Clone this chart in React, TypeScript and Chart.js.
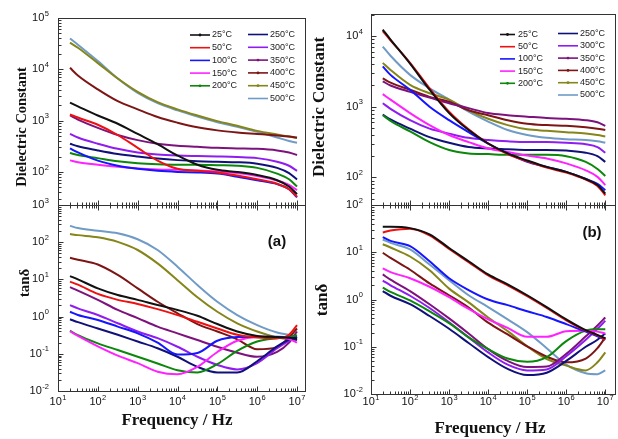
import React, { useEffect, useRef } from 'react';
import { Chart, registerables } from 'chart.js';

Chart.register(...registerables);

// ---------- shared data ----------
const frequencyHz = [20, 31.6, 100, 316, 1000, 3160, 10000, 31600, 100000, 316000, 1000000, 3160000, 6300000, 10000000];
const temperatureLabels = ['25°C', '50°C', '100°C', '150°C', '200°C', '250°C', '300°C', '350°C', '400°C', '450°C', '500°C'];
const frequencyTickExponents = [1, 2, 3, 4, 5, 6, 7];

// ---------- panel (a): dielectric constant ----------
const epsA_25 = [2240, 1900, 1260, 870, 550, 347, 209, 138, 110, 100, 87, 69, 52, 37];
const epsA_50 = [1320, 1150, 832, 525, 295, 166, 115, 105, 98, 85, 72, 59, 46, 33];
const epsA_100 = [288, 240, 166, 132, 115, 105, 100, 98, 93, 81, 69, 58, 46, 32];
const epsA_150 = [168, 155, 138, 126, 117, 112, 110, 107, 102, 95, 83, 68, 56, 44];
const epsA_200 = [234, 214, 186, 162, 148, 141, 138, 138, 135, 132, 120, 93, 72, 52];
const epsA_250 = [355, 316, 263, 224, 200, 182, 170, 162, 158, 155, 145, 120, 95, 71];
const epsA_300 = [550, 468, 355, 282, 240, 219, 209, 204, 200, 195, 186, 158, 132, 105];
const epsA_350 = [1260, 1050, 724, 525, 417, 355, 324, 309, 295, 288, 282, 263, 240, 214];
const epsA_400 = [10700, 7590, 4070, 2400, 1660, 1175, 912, 741, 646, 589, 550, 513, 490, 470];
const epsA_450 = [33100, 26300, 13200, 6610, 3630, 2290, 1660, 1260, 977, 794, 631, 537, 490, 460];
const epsA_500 = [39800, 30200, 14500, 6610, 3470, 2190, 1585, 1200, 933, 759, 603, 470, 400, 372];
const epsATickExponents = [2, 3, 4, 5];

// ---------- panel (a): tan delta ----------
const tanA_25 = [12.3, 10.0, 5.75, 3.8, 2.82, 2.04, 1.51, 1.05, 0.631, 0.398, 0.302, 0.282, 0.269, 0.251];
const tanA_50 = [8.71, 7.24, 4.07, 2.82, 2.19, 1.585, 1.096, 0.724, 0.479, 0.324, 0.275, 0.263, 0.324, 0.589];
const tanA_100 = [1.35, 1.1, 0.813, 0.537, 0.355, 0.2, 0.0955, 0.105, 0.224, 0.282, 0.288, 0.288, 0.275, 0.234];
const tanA_150 = [0.398, 0.302, 0.158, 0.0891, 0.0562, 0.0331, 0.0282, 0.0447, 0.112, 0.224, 0.282, 0.282, 0.251, 0.2];
const tanA_200 = [0.417, 0.316, 0.191, 0.126, 0.0832, 0.055, 0.0363, 0.0316, 0.0525, 0.12, 0.214, 0.263, 0.282, 0.316];
const tanA_250 = [0.851, 0.708, 0.479, 0.324, 0.214, 0.141, 0.0832, 0.0447, 0.0316, 0.0316, 0.0631, 0.158, 0.24, 0.282];
const tanA_300 = [2.04, 1.66, 1.1, 0.661, 0.398, 0.263, 0.155, 0.0832, 0.0501, 0.038, 0.0562, 0.141, 0.224, 0.282];
const tanA_350 = [6.17, 5.01, 2.82, 1.51, 0.912, 0.537, 0.355, 0.234, 0.155, 0.107, 0.0832, 0.112, 0.2, 0.398];
const tanA_400 = [38.0, 33.9, 25.1, 13.2, 5.75, 2.51, 1.23, 0.631, 0.398, 0.245, 0.132, 0.151, 0.275, 0.479];
const tanA_450 = [166, 155, 135, 102, 61.7, 26.9, 9.55, 3.31, 1.35, 0.661, 0.398, 0.275, 0.245, 0.234];
const tanA_500 = [275, 240, 204, 174, 120, 61.7, 21.9, 7.08, 2.51, 1.1, 0.589, 0.372, 0.324, 0.288];
const tanATickExponents = [-2, -1, 0, 1, 2, 3];

// ---------- panel (b): dielectric constant ----------
const epsB_25 = [12300, 8910, 4070, 1740, 813, 468, 302, 219, 174, 141, 120, 95, 78, 59];
const epsB_50 = [11700, 8710, 4170, 1820, 851, 479, 302, 214, 170, 138, 117, 93, 76, 56];
const epsB_100 = [3720, 2820, 1740, 1000, 646, 437, 302, 219, 166, 141, 120, 95, 81, 66];
const epsB_150 = [1510, 1260, 813, 550, 398, 316, 257, 229, 204, 186, 158, 126, 102, 78];
const epsB_200 = [759, 631, 447, 316, 245, 219, 214, 209, 209, 209, 200, 166, 132, 105];
const epsB_250 = [776, 661, 490, 372, 309, 269, 257, 251, 245, 245, 240, 224, 200, 166];
const epsB_300 = [1120, 933, 646, 490, 417, 363, 339, 324, 316, 316, 309, 295, 269, 224];
const epsB_350 = [2290, 1995, 1622, 1349, 1122, 955, 813, 759, 724, 692, 676, 646, 603, 537];
const epsB_400 = [2510, 2190, 1740, 1380, 1175, 891, 759, 646, 575, 550, 537, 513, 490, 468];
const epsB_450 = [4170, 3310, 2040, 1549, 1259, 891, 676, 550, 479, 457, 437, 417, 398, 380];
const epsB_500 = [7080, 5250, 2820, 1820, 1259, 851, 617, 468, 398, 363, 347, 339, 324, 309];
const epsBTickExponents = [2, 3, 4];

// ---------- panel (b): tan delta ----------
const tanB_25 = [34.7, 34.7, 32.4, 24.0, 12.3, 6.46, 3.39, 2.09, 1.23, 0.692, 0.38, 0.224, 0.178, 0.151];
const tanB_50 = [26.3, 28.8, 31.6, 22.9, 11.7, 6.17, 3.24, 2.0, 1.175, 0.661, 0.363, 0.219, 0.174, 0.141];
const tanB_100 = [20.9, 17.4, 13.5, 6.46, 2.82, 1.585, 1.0, 0.759, 0.562, 0.427, 0.302, 0.209, 0.166, 0.141];
const tanB_150 = [4.57, 3.8, 2.82, 1.86, 1.12, 0.631, 0.38, 0.251, 0.162, 0.162, 0.214, 0.219, 0.209, 0.191];
const tanB_200 = [1.78, 1.445, 0.955, 0.562, 0.316, 0.158, 0.0891, 0.0562, 0.0479, 0.0603, 0.132, 0.219, 0.234, 0.234];
const tanB_250 = [1.51, 1.2, 0.794, 0.447, 0.24, 0.12, 0.0603, 0.0339, 0.0251, 0.0282, 0.0501, 0.1, 0.141, 0.191];
const tanB_300 = [2.51, 2.0, 1.2, 0.661, 0.331, 0.158, 0.0759, 0.0417, 0.0316, 0.0331, 0.0631, 0.141, 0.24, 0.355];
const tanB_350 = [3.39, 2.63, 1.51, 0.794, 0.398, 0.191, 0.0891, 0.0501, 0.0372, 0.038, 0.0708, 0.166, 0.282, 0.417];
const tanB_400 = [9.77, 7.59, 4.27, 2.19, 1.23, 0.676, 0.324, 0.182, 0.102, 0.0617, 0.0468, 0.0562, 0.0933, 0.158];
const tanB_450 = [14.8, 12.6, 8.13, 4.17, 1.7, 0.871, 0.417, 0.214, 0.102, 0.055, 0.0398, 0.0316, 0.0468, 0.0759];
const tanB_500 = [18.6, 15.8, 11.5, 5.5, 2.57, 1.23, 0.692, 0.38, 0.204, 0.0933, 0.0417, 0.0275, 0.0263, 0.0316];
const tanBTickExponents = [-2, -1, 0, 1, 2];

// ---------- styles ----------
const seriesColors = ['#111111', '#ee1111', '#1515ff', '#ff22ff', '#0b870b', '#10107a', '#8f1cf0', '#7d127d', '#7d1515', '#85851a', '#6f9bc6'];
const legendMarkers = [true, false, false, false, true, false, false, true, true, true, false];

const W = 618;
const H = 439;
const SANS = '"Liberation Sans", Arial, sans-serif';
const SERIF = '"Liberation Serif", "Times New Roman", serif';

type Area = { left: number; top: number; right: number; bottom: number };
type LegendCol = { x0: number; x1: number; tx: number; y0: number; dy: number; idx: number[] };
type PanelCfg = {
  series: number[][];
  area: Area;
  xMax: number;
  yMin: number;
  yMax: number;
  yTicks: number[];
  xLabelY?: number;
  xTicksTop: boolean;
  yTitle: string;
  yTitleFont: string;
  yTitlePos: [number, number];
  xTitle?: { text: string; x: number; y: number };
  tag?: { text: string; x: number; y: number };
  legend?: LegendCol[];
  yLabelGap: number;
};

function drawPow(ctx: CanvasRenderingContext2D, exp: number, x: number, y: number, align: 'right' | 'center') {
  const base = '10';
  const sup = String(exp);
  ctx.font = `11px ${SANS}`;
  const bw = ctx.measureText(base).width;
  ctx.font = `7.5px ${SANS}`;
  const sw = ctx.measureText(sup).width;
  const total = bw + sw + 0.5;
  const x0 = align === 'right' ? x - total : x - total / 2;
  ctx.textAlign = 'left';
  ctx.textBaseline = 'middle';
  ctx.fillStyle = '#111';
  ctx.font = `11px ${SANS}`;
  ctx.fillText(base, x0, y);
  ctx.font = `7.5px ${SANS}`;
  ctx.fillText(sup, x0 + bw + 0.5, y - 4.5);
}

function makeDecor(cfg: PanelCfg) {
  return {
    id: 'decor',
    afterDatasetsDraw(chart: any) {
      const ctx: CanvasRenderingContext2D = chart.ctx;
      const { left, top, right, bottom } = chart.chartArea;
      const xs = chart.scales.x;
      const ys = chart.scales.y;
      ctx.save();
      ctx.strokeStyle = '#333';
      ctx.lineWidth = 1;
      ctx.strokeRect(Math.round(left) + 0.5, Math.round(top) + 0.5, Math.round(right - left) - 1, Math.round(bottom - top));

      const line = (x1: number, y1: number, x2: number, y2: number) => {
        ctx.beginPath();
        ctx.moveTo(x1, y1);
        ctx.lineTo(x2, y2);
        ctx.stroke();
      };

      // y ticks (inward)
      const lx = Math.round(left) + 0.5;
      for (let e = Math.floor(Math.log10(ys.min)); e <= Math.ceil(Math.log10(ys.max)); e++) {
        for (let m = 1; m < 10; m++) {
          const v = m * Math.pow(10, e);
          if (v < ys.min * 0.999 || v > ys.max * 1.001) continue;
          const py = Math.round(ys.getPixelForValue(v)) + 0.5;
          line(lx, py, lx + (m === 1 ? 5 : 3), py);
        }
      }
      // x ticks (inward)
      const by = Math.round(bottom) + 0.5;
      const ty = Math.round(top) + 0.5;
      for (let e = 1; e <= 7; e++) {
        for (let m = 1; m < 10; m++) {
          const v = m * Math.pow(10, e);
          if (v < xs.min * 0.999 || v > xs.max * 1.001) continue;
          const px = Math.round(xs.getPixelForValue(v)) + 0.5;
          const len = m === 1 ? 5 : 3;
          line(px, by, px, by - len);
          if (cfg.xTicksTop) line(px, ty, px, ty + len);
        }
      }

      // y tick labels
      cfg.yTicks.forEach((e) => {
        const py = ys.getPixelForValue(Math.pow(10, e));
        drawPow(ctx, e, left - cfg.yLabelGap, py, 'right');
      });
      // x tick labels
      if (cfg.xLabelY !== undefined) {
        frequencyTickExponents.forEach((e) => {
          const px = xs.getPixelForValue(Math.pow(10, e));
          drawPow(ctx, e, px, cfg.xLabelY as number, 'center');
        });
      }

      // y title
      ctx.save();
      ctx.translate(cfg.yTitlePos[0], cfg.yTitlePos[1]);
      ctx.rotate(-Math.PI / 2);
      ctx.font = cfg.yTitleFont;
      ctx.fillStyle = '#111';
      ctx.textAlign = 'center';
      ctx.textBaseline = 'middle';
      ctx.fillText(cfg.yTitle, 0, 0);
      ctx.restore();

      if (cfg.xTitle) {
        ctx.font = `bold 17px ${SERIF}`;
        ctx.fillStyle = '#111';
        ctx.textAlign = 'center';
        ctx.textBaseline = 'middle';
        ctx.fillText(cfg.xTitle.text, cfg.xTitle.x, cfg.xTitle.y);
      }
      if (cfg.tag) {
        ctx.font = `bold 15px ${SANS}`;
        ctx.fillStyle = '#111';
        ctx.textAlign = 'center';
        ctx.textBaseline = 'middle';
        ctx.fillText(cfg.tag.text, cfg.tag.x, cfg.tag.y);
      }
      if (cfg.legend) {
        cfg.legend.forEach((col) => {
          col.idx.forEach((si, r) => {
            const y = col.y0 + r * col.dy;
            ctx.strokeStyle = seriesColors[si];
            ctx.lineWidth = 1.6;
            line(col.x0, y, col.x1, y);
            if (legendMarkers[si]) {
              ctx.fillStyle = seriesColors[si];
              ctx.beginPath();
              ctx.arc((col.x0 + col.x1) / 2, y, 1.4, 0, Math.PI * 2);
              ctx.fill();
            }
            ctx.fillStyle = '#222';
            ctx.font = `9px ${SANS}`;
            ctx.textAlign = 'left';
            ctx.textBaseline = 'middle';
            ctx.fillText(temperatureLabels[si], col.tx, y);
          });
        });
      }
      ctx.restore();
    },
  };
}

function buildChart(canvas: HTMLCanvasElement, cfg: PanelCfg) {
  const datasets = cfg.series.map((vals, i) => ({
    label: temperatureLabels[i],
    data: frequencyHz.map((f, j) => ({ x: f, y: vals[j] })),
    borderColor: seriesColors[i],
    backgroundColor: seriesColors[i],
    borderWidth: 2,
    pointRadius: 0,
    fill: false,
    cubicInterpolationMode: 'monotone' as const,
  }));
  return new Chart(canvas, {
    type: 'line',
    data: { datasets },
    options: {
      responsive: false,
      animation: false,
      devicePixelRatio: 1,
      events: [],
      layout: {
        padding: {
          left: cfg.area.left,
          top: cfg.area.top,
          right: W - cfg.area.right,
          bottom: H - cfg.area.bottom,
        },
      },
      plugins: { legend: { display: false }, tooltip: { enabled: false } },
      scales: {
        x: { type: 'logarithmic', min: 10, max: cfg.xMax, display: false },
        y: { type: 'logarithmic', min: cfg.yMin, max: cfg.yMax, display: false },
      },
    },
    plugins: [makeDecor(cfg)],
  } as any);
}

const panels: PanelCfg[] = [
  {
    series: [epsA_25, epsA_50, epsA_100, epsA_150, epsA_200, epsA_250, epsA_300, epsA_350, epsA_400, epsA_450, epsA_500],
    area: { left: 58, top: 18, right: 306, bottom: 205 },
    xMax: 1.68e7,
    yMin: 22.7,
    yMax: 1e5,
    yTicks: epsATickExponents,
    xTicksTop: false,
    yTitle: 'Dielectric Constant',
    yTitleFont: `bold 14.5px ${SERIF}`,
    yTitlePos: [22, 127],
    yLabelGap: 9,
    legend: [
      { x0: 190, x1: 210, tx: 212, y0: 35, dy: 12.7, idx: [0, 1, 2, 3, 4] },
      { x0: 248, x1: 268, tx: 270, y0: 34.5, dy: 12.8, idx: [5, 6, 7, 8, 9, 10] },
    ],
  },
  {
    series: [tanA_25, tanA_50, tanA_100, tanA_150, tanA_200, tanA_250, tanA_300, tanA_350, tanA_400, tanA_450, tanA_500],
    area: { left: 58, top: 205, right: 306, bottom: 391 },
    xMax: 1.68e7,
    yMin: 0.01,
    yMax: 1000,
    yTicks: tanATickExponents,
    xLabelY: 402,
    xTicksTop: true,
    yTitle: 'tanδ',
    yTitleFont: `bold 15px ${SERIF}`,
    yTitlePos: [25, 283],
    yLabelGap: 9,
    xTitle: { text: 'Frequency / Hz', x: 177, y: 421 },
    tag: { text: '(a)', x: 277, y: 242 },
  },
  {
    series: [epsB_25, epsB_50, epsB_100, epsB_150, epsB_200, epsB_250, epsB_300, epsB_350, epsB_400, epsB_450, epsB_500],
    area: { left: 371, top: 14, right: 616, bottom: 205 },
    xMax: 1.88e7,
    yMin: 40.8,
    yMax: 20470,
    yTicks: epsBTickExponents,
    xTicksTop: false,
    yTitle: 'Dielectric Constant',
    yTitleFont: `bold 17px ${SERIF}`,
    yTitlePos: [320, 107],
    yLabelGap: 8,
    legend: [
      { x0: 500, x1: 515, tx: 518, y0: 34.5, dy: 12.2, idx: [0, 1, 2, 3, 4] },
      { x0: 558, x1: 578, tx: 580, y0: 33.5, dy: 12.3, idx: [5, 6, 7, 8, 9, 10] },
    ],
  },
  {
    series: [tanB_25, tanB_50, tanB_100, tanB_150, tanB_200, tanB_250, tanB_300, tanB_350, tanB_400, tanB_450, tanB_500],
    area: { left: 371, top: 205, right: 616, bottom: 394 },
    xMax: 1.88e7,
    yMin: 0.01,
    yMax: 100,
    yTicks: tanBTickExponents,
    xLabelY: 402,
    xTicksTop: true,
    yTitle: 'tanδ',
    yTitleFont: `bold 17px ${SERIF}`,
    yTitlePos: [323, 300],
    yLabelGap: 8,
    xTitle: { text: 'Frequency / Hz', x: 490, y: 429 },
    tag: { text: '(b)', x: 592, y: 233 },
  },
];

export default function App() {
  const refs = [useRef<HTMLCanvasElement>(null), useRef<HTMLCanvasElement>(null), useRef<HTMLCanvasElement>(null), useRef<HTMLCanvasElement>(null)];
  useEffect(() => {
    const charts = panels.map((cfg, i) => buildChart(refs[i].current as HTMLCanvasElement, cfg));
    return () => charts.forEach((c) => c.destroy());
  }, []);
  return (
    <div style={{ position: 'absolute', left: 0, top: 0, width: W, height: H, background: '#fff', overflow: 'hidden' }}>
      {refs.map((r, i) => (
        <canvas key={i} ref={r} width={W} height={H} style={{ position: 'absolute', left: 0, top: 0, width: W, height: H }} />
      ))}
    </div>
  );
}
